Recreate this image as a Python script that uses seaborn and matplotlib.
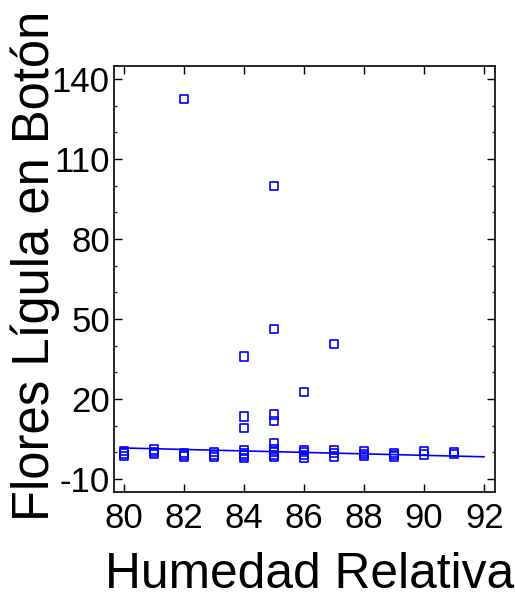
import matplotlib
matplotlib.use("Agg")
import matplotlib.pyplot as plt
from matplotlib.ticker import MultipleLocator
import numpy as np
import pandas as pd
import seaborn as sns

# Relative humidity (%) for each observation
humedad = (
    [80] * 3
    + [81] * 3
    + [82] * 4
    + [83] * 3
    + [84] * 7
    + [85] * 9
    + [86] * 5
    + [87] * 4
    + [88] * 3
    + [89] * 3
    + [90] * 2
    + [91] * 2
)

# Ligule flowers in bud counted at each observation
flores = [
    0.4, -0.5, -1.4,
    1.0, 0.0, -0.7,
    132.4, -0.3, -1.0, -1.6,
    0.1, -1.0, -1.9,
    35.9, 13.4, 9.2, 0.6, -0.5, -1.2, -2.1,
    100.0, 46.2, 14.2, 11.7, 3.4, 1.0, 0.0, -1.0, -1.6,
    22.7, 0.9, 0.0, -1.0, -2.1,
    40.6, 0.9, -0.3, -1.6,
    0.25, -0.6, -1.4,
    -0.3, -1.0, -1.6,
    0.4, -0.9,
    0.0, -0.7,
]

# Fitted straight line: value at 80 % humidity and slope per % humidity
fit_x = [79.9, 92.0]
fit_intercept_80 = 1.6
fit_slope = -0.275

x_ticks = [80, 82, 84, 86, 88, 90, 92]
y_ticks = [-10, 20, 50, 80, 110, 140]

df = pd.DataFrame({"Humedad Relativa": humedad, "Flores Lígula en Botón": flores})
fit_df = pd.DataFrame({
    "x": fit_x,
    "y": [fit_intercept_80 + fit_slope * (v - 80) for v in fit_x],
})

sns.set_style("ticks")
plt.rcParams["font.family"] = ["Liberation Sans", "DejaVu Sans"]
plt.rcParams["axes.unicode_minus"] = False

fig = plt.figure(figsize=(5.15, 6.01), dpi=100)
ax = fig.add_axes([0.2214, 0.1814, 0.7398, 0.7088])

blue = "#0000FF"
sns.lineplot(data=fit_df, x="x", y="y", ax=ax, color=blue, linewidth=1.2,
             estimator=None, sort=False)
sns.scatterplot(data=df, x="Humedad Relativa", y="Flores Lígula en Botón", ax=ax,
                marker="s", s=36, facecolor="none", edgecolor=blue,
                linewidth=1.2, zorder=3)

ax.set_xlim(79.67, 92.36)
ax.set_ylim(-14.9, 144.9)
ax.set_xticks(x_ticks)
ax.set_yticks(y_ticks)
ax.yaxis.set_minor_locator(MultipleLocator(10))

for side in ["left", "right", "top", "bottom"]:
    ax.spines[side].set_visible(True)
    ax.spines[side].set_linewidth(1.2)
    ax.spines[side].set_color("black")

ax.tick_params(axis="both", which="major", direction="in", length=6, width=1.0,
               top=True, right=True, labelsize=25, colors="black")
ax.tick_params(axis="y", which="minor", direction="in", length=2.5, width=1.0,
               right=True, left=True)
ax.tick_params(axis="y", which="major", pad=3)
ax.tick_params(axis="x", which="major", pad=7)

ax.set_xlabel("Humedad Relativa", fontsize=35.7, color="black")
ax.set_ylabel("Flores Lígula en Botón", fontsize=36.5, color="black")
ax.xaxis.set_label_coords(0.514, -0.142)
ax.yaxis.set_label_coords(-0.142, 0.53)

fig.savefig("out.png", dpi=100, facecolor="white")
